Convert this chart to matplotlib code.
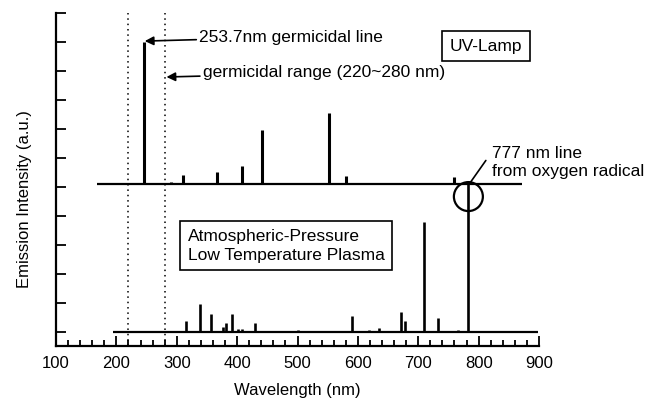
import matplotlib.pyplot as plt
from matplotlib.patches import Ellipse
from matplotlib.ticker import MultipleLocator

plt.rcParams['font.family'] = ['Liberation Sans', 'DejaVu Sans']

# UV lamp spectrum (offset upward), peaks
uv_base = 5.1
uv_range = [168, 872]
uv_wl = [245, 290, 310, 367, 408, 441, 552, 580, 760]
uv_height = [4.9, 0.08, 0.3, 0.4, 0.6, 1.85, 2.45, 0.28, 0.22]

# atmospheric-pressure plasma spectrum
pl_base = 0.0
pl_range = [195, 898]
pl_wl = [316, 338, 357, 377, 381, 392, 401, 408, 430, 500, 591, 618, 635,
         672, 678, 710, 732, 765, 783]
pl_height = [0.38, 0.95, 0.6, 0.17, 0.3, 0.6, 0.1, 0.1, 0.28, 0.04, 0.52,
             0.06, 0.12, 0.66, 0.38, 3.78, 0.47, 0.06, 5.1]

germ_range = [220, 280]

fig = plt.figure(figsize=(6.51, 4.0), dpi=100)
ax = fig.add_axes([0.086, 0.135, 0.742, 0.8325])

# baselines and emission lines
ax.hlines(uv_base, uv_range[0], uv_range[1], color='k', lw=1.6)
ax.vlines(uv_wl, uv_base, [uv_base + h for h in uv_height], color='k', lw=2.2)
ax.hlines(pl_base, pl_range[0], pl_range[1], color='k', lw=1.6)
ax.vlines(pl_wl, pl_base, [pl_base + h for h in pl_height], color='k', lw=1.9)

# germicidal range
for g in germ_range:
    ax.axvline(g, color='k', lw=1.1, ls=(0, (1, 2.5)))

ax.set_xlim(100, 900)
ax.set_ylim(-0.5, 11)
ax.xaxis.set_major_locator(MultipleLocator(100))
ax.xaxis.set_minor_locator(MultipleLocator(20))
ax.yaxis.set_major_locator(MultipleLocator(1))
ax.set_yticklabels([])
ax.tick_params(axis='both', which='major', direction='in', length=7, width=1.3,
               labelsize=12, pad=7)
ax.tick_params(axis='x', which='minor', direction='in', length=4, width=1.3)
for side in ['top', 'right']:
    ax.spines[side].set_visible(False)
for side in ['left', 'bottom']:
    ax.spines[side].set_linewidth(1.6)

ax.set_xlabel('Wavelength (nm)', fontsize=12, labelpad=9)
ax.set_ylabel('Emission Intensity (a.u.)', fontsize=12)
ax.yaxis.set_label_coords(-0.05, 0.44)

arrow = dict(arrowstyle='-|>', color='k', lw=1.2, mutation_scale=13,
             shrinkA=0, shrinkB=0)
ax.annotate('253.7nm germicidal line', xy=(247, 10.03), xytext=(337, 10.17),
            fontsize=12.5, va='center', arrowprops=arrow)
ax.annotate('germicidal range (220~280 nm)', xy=(283, 8.79), xytext=(343, 8.93),
            fontsize=12.5, va='center', arrowprops=arrow)

ax.text(812, 9.86, 'UV-Lamp', fontsize=12.5, ha='center', va='center',
        bbox=dict(boxstyle='square,pad=0.45', fc='white', ec='k', lw=1.2))
ax.text(318, 2.96, 'Atmospheric-Pressure\nLow Temperature Plasma', fontsize=12.5,
        ha='left', va='center', linespacing=1.3,
        bbox=dict(boxstyle='square,pad=0.45', fc='white', ec='k', lw=1.2))

ax.annotate('777 nm line\nfrom oxygen radical', xy=(786, 5.14), xytext=(822, 5.85),
            fontsize=12.5, va='center', linespacing=1.25,
            arrowprops=dict(arrowstyle='-', color='k', lw=1.2,
                            shrinkA=0, shrinkB=0, relpos=(-0.04, 0.55)))
ax.add_patch(Ellipse((783, 4.66), 48, 1.0, fill=False, ec='k', lw=1.6))

fig.savefig('out.png', dpi=100)
